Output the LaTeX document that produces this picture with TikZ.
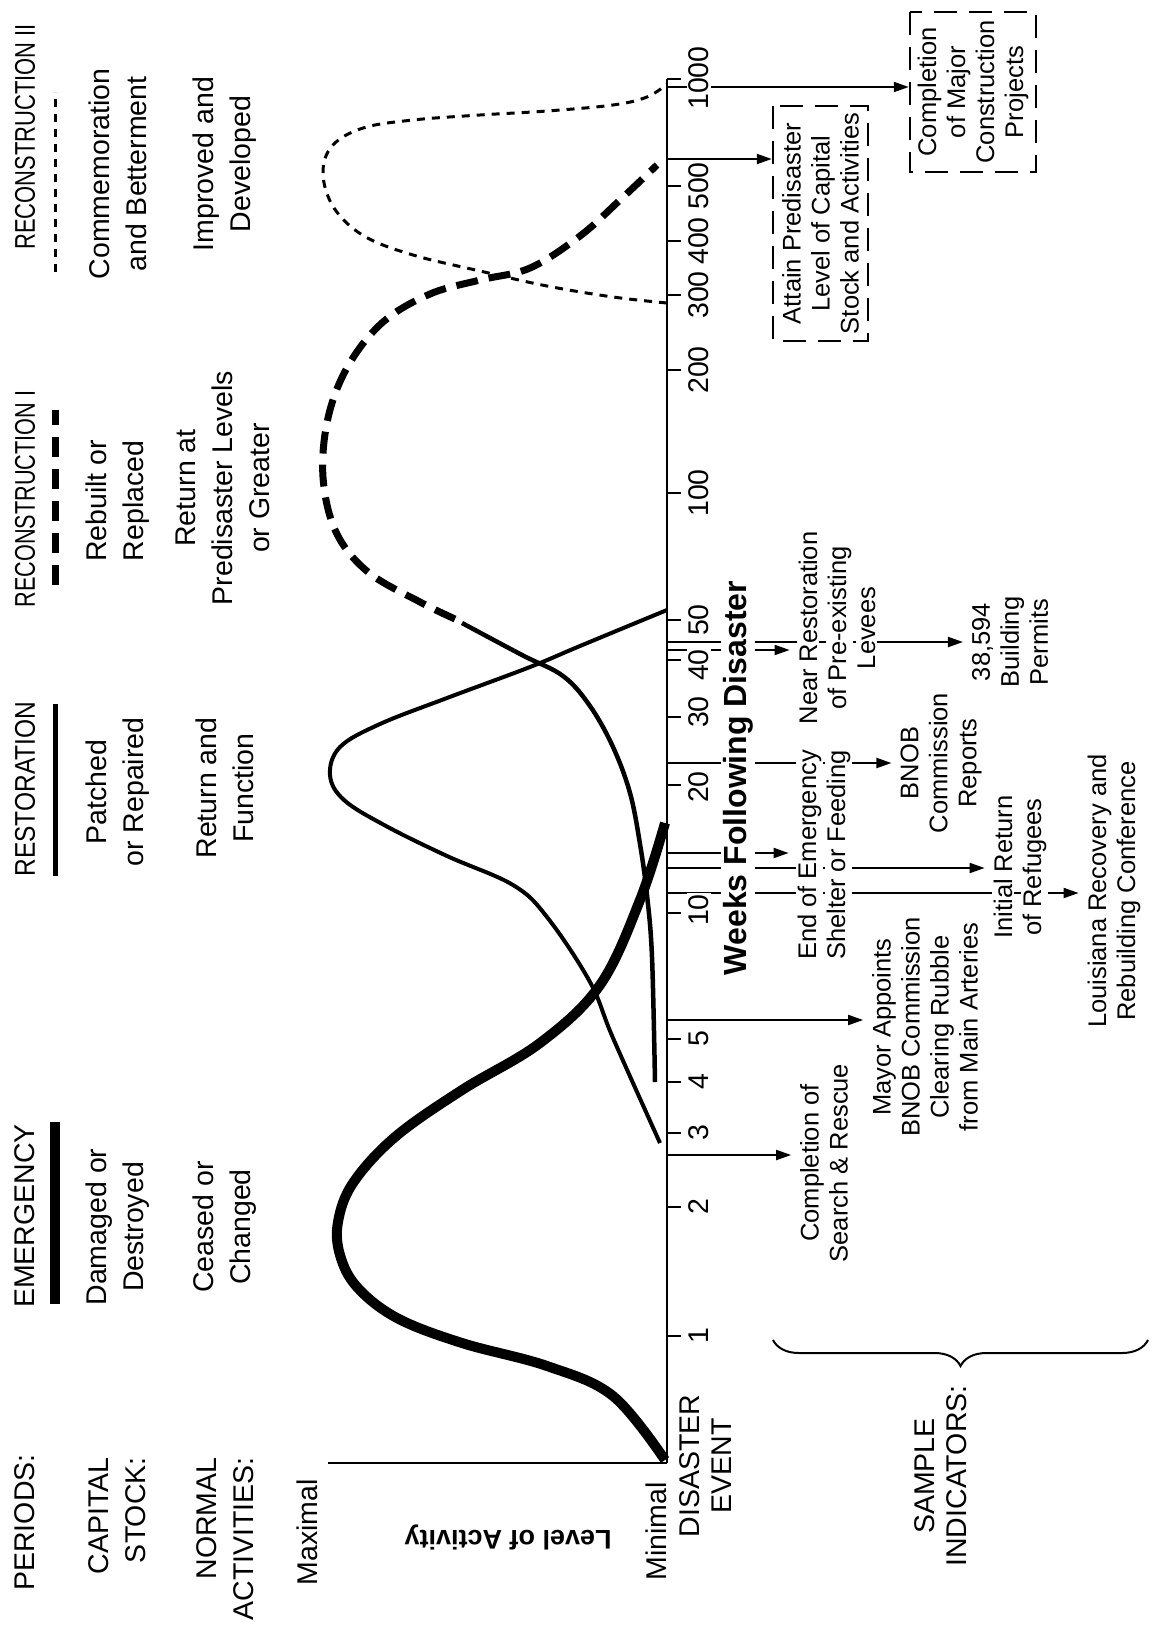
\documentclass[tikz,border=0pt]{standalone}
\usepackage{fontspec}
\setmainfont{Liberation Sans}
\usetikzlibrary{arrows.meta,decorations.pathreplacing}
\pgfdeclarelayer{paper}
\pgfdeclarelayer{back}
\pgfsetlayers{paper,back,main}
\newcommand{\kb}[1]{{\setlength{\fboxsep}{0.8pt}\colorbox{white}{#1}}}
\begin{document}
\begin{tikzpicture}[x=0.5pt,y=-0.5pt,
 every node/.style={inner sep=1pt},
 lbig/.style={rotate=90, font=\fontsize{14.25pt}{18.5pt}\selectfont, align=center},
 lbigr/.style={lbig, align=right},
 lmid/.style={rotate=90, font=\fontsize{14.25pt}{16pt}\selectfont, align=center},
 ind/.style={rotate=90, font=\fontsize{12.75pt}{14.5pt}\selectfont, align=center, inner sep=3.5pt},
 tlab/.style={rotate=90, font=\fontsize{14.25pt}{17pt}\selectfont, inner sep=0pt},
 dbox/.style={draw, line width=1.25pt, dash pattern=on 11.5pt off 6pt, rotate=90,
   font=\fontsize{12.75pt}{14.5pt}\selectfont, align=center},
 arr/.style={line width=1pt, -{Triangle[length=7.5pt,width=5pt]}},
 thin/.style={line width=1pt},
 emerg/.style={line width=5pt},
 restor/.style={line width=2pt},
 reconA/.style={line width=2.25pt},
 reconAd/.style={line width=3.5pt, dash pattern=on 11pt off 5.5pt},
 reconB/.style={line width=1.5pt, dash pattern=on 4pt off 3.5pt},
]
\begin{pgfonlayer}{paper}
\fill[white] (0,0) rectangle (1156,1628);
\end{pgfonlayer}
\useasboundingbox (0,0) rectangle (1156,1628);

% ---------- left header texts ----------
\node[lbigr, anchor=east] (periods) at (25,1452) {PERIODS:};
\node[lbigr, anchor=east] (capital) at (117.5,1455) {CAPITAL\\STOCK:};
\node[lbigr, anchor=east] (normal) at (225,1455) {NORMAL\\ACTIVITIES:};
\node[lbigr, anchor=east] (maximal) at (307.5,1477) {Maximal};
\node[lbigr, anchor=east] (minimal) at (656,1480) {Minimal};
\node[lmid] (disaster) at (706,1466) {DISASTER\\EVENT};
\node[lmid] (sample) at (941,1476) {SAMPLE\\INDICATORS:};
\node[rotate=180, font=\fontsize{13.5pt}{16pt}\selectfont\bfseries] (ylab) at (508,1537) {Level of Activity};

% Emergency group
\node[lbig] (pemerg) at (25,1216) {EMERGENCY};
\node[lbig] (cemerg) at (118,1227) {Damaged or\\Destroyed};
\node[lbig] (aemerg) at (225,1227) {Ceased or\\Changed};
% Restoration group
\node[lbig, xscale=0.86] (prest) at (25,789) {RESTORATION};
\node[lbig] (crest) at (118,792) {Patched\\or Repaired};
\node[lbig] (arest) at (225,788) {Return and\\Function};
% Reconstruction I group
\node[lbig, xscale=0.76] (precA) at (25,499) {RECONSTRUCTION I};
\node[lbig] (crecA) at (118,501) {Rebuilt or\\Replaced};
\node[lbig] (arecA) at (223,488) {Return at\\Predisaster Levels\\or Greater};
% Reconstruction II group
\node[lbig, xscale=0.77] (precB) at (25,137) {RECONSTRUCTION II};
\node[lbig] (crecB) at (118,174) {Commemoration\\and Betterment};
\node[lbig] (arecB) at (225,164) {Improved and\\Developed};

% legend bars
\coordinate (le1) at (55,1304); \coordinate (le2) at (55,1122);
\coordinate (lr1) at (55,876);  \coordinate (lr2) at (55,704);
\coordinate (la1) at (55,585);  \coordinate (la2) at (55,410);
\coordinate (lb1) at (55,272);  \coordinate (lb2) at (55,92);
\draw[emerg] (le1) -- (le2);
\draw[line width=2.5pt] (lr1) -- (lr2);
\draw[line width=3.5pt, dash pattern=on 10pt off 6pt] (la1) -- (la2);
\draw[reconB] (lb1) -- (lb2);

% ---------- axis ----------
\coordinate (axtop) at (667,79);
\coordinate (axbot) at (667,1463);
\coordinate (maxc) at (328,1463);

\begin{pgfonlayer}{back}
% curves
\draw[emerg] plot[smooth, tension=0.6] coordinates {(665,1460) (613,1396) (547,1366) (462,1343) (397,1318) (357,1287) (340,1255) (338,1222) (353,1183) (395,1137) (462,1090) (540,1043) (600,985) (640,900) (665,823)};
\draw[restor] plot[smooth, tension=0.6] coordinates {(660,1143) (613,1038) (590,982) (547,917) (513,885) (447,856) (386,826) (344,800) (330,775) (340,747) (380,724) (447,698) (530,667) (580,646) (667,610)};
\draw[reconA] plot[smooth, tension=0.6] coordinates {(655,1082) (652,957) (647,895) (640,844) (630,793) (613,747) (590,706) (563,676) (522,655) (462,623)};
\draw[reconAd] plot[smooth, tension=0.6] coordinates {(455,619) (420,602) (368,572) (336,532) (323,477) (328,418) (348,366) (383,322) (430,294) (480,280) (530,268) (580,236) (620,200) (657,165)};
\draw[reconB] plot[smooth, tension=0.6] coordinates {(667,303) (613,297) (547,286) (480,271) (413,255) (364,236) (334,208) (323,174) (332,146) (363,128) (413,120) (480,115) (547,111) (613,105) (647,97) (667,84)};

\draw[thin] (axtop) -- (axbot);
\draw[thin] (maxc) -- (axbot);
\foreach \y in {1336,1207,1133,1082,1039,913,785,717,660,620,493,370,295,241,186,79}
  \draw[thin] (667,\y) -- (681,\y);
\end{pgfonlayer}

% tick labels
\foreach \v/\y in {1/1336,2/1207,3/1133,4/1082,5/1039,10/910,20/787,30/712,40/665,50/620,100/493,200/370,300/295,400/241,500/186,1000/78}
  \node[tlab] (lab\v) at (699,\y) {\kb{\v}};

\node[rotate=90, font=\fontsize{16pt}{18pt}\selectfont\bfseries, inner sep=0pt] (title) at (738,778) {\kb{Weeks Following Disaster}};

% ---------- indicators ----------
\node[ind] (n1) at (824,1163) {\kb{Completion of}\\\kb{Search \& Rescue}};
\node[ind] (n2) at (925,1027) {\kb{Mayor Appoints}\\\kb{BNOB Commission}\\\kb{Clearing Rubble}\\\kb{from Main Arteries}};
\node[ind] (n3) at (1114,891) {\kb{Louisiana Recovery and}\\\kb{Rebuilding Conference}};
\node[ind] (n4) at (1020,867) {\kb{Initial Return}\\\kb{of Refugees}};
\node[ind] (n5) at (824,855) {\kb{End of Emergency}\\\kb{Shelter or Feeding}};
\node[ind] (n6) at (941,763) {\kb{BNOB}\\\kb{Commission}\\\kb{Reports}};
\node[ind] (n7) at (837,628) {\kb{Near Restoration}\\\kb{of Pre-existing}\\\kb{Levees}};
\node[ind] (n8) at (1010,642) {\kb{38,594}\\\kb{Building}\\\kb{Permits}};
\node[dbox, minimum width=117.5pt, minimum height=47.5pt] (attain) at (820.5,223.5) {Attain Predisaster\\Level of Capital\\Stock and Activities};
\node[dbox, minimum width=80pt, minimum height=63pt] (major) at (973,92) {Completion\\of Major\\Construction\\Projects};

\coordinate (e1) at (667,1155);
\coordinate (e2) at (667,1020);
\coordinate (e3) at (667,893);
\coordinate (e4) at (667,868);
\coordinate (e5) at (667,853);
\coordinate (e6) at (667,763);
\coordinate (e7) at (667,650);
\coordinate (e8) at (667,642);
\coordinate (e9) at (667,159);
\coordinate (e10) at (667,87);

\begin{pgfonlayer}{back}
\draw[arr] (e1) -- (e1 -| n1.north);
\draw[arr] (e2) -- (e2 -| n2.north);
\draw[arr] (e3) -- (e3 -| n3.north);
\draw[arr] (e4) -- (e4 -| n4.north);
\draw[arr] (e5) -- (e5 -| n5.north);
\draw[arr] (e6) -- (e6 -| n6.north);
\draw[arr] (e7) -- (e7 -| n7.north);
\draw[arr] (e8) -- (e8 -| n8.north);
\draw[arr] (e9) -- (e9 -| attain.north);
\draw[arr] (e10) -- (e10 -| major.north);
\end{pgfonlayer}

% brace
\coordinate (bR) at (1148,1340);
\coordinate (bL) at (773,1340);
\draw[line width=1pt, decorate, decoration={brace, amplitude=13pt}] (bR) -- (bL);
\end{tikzpicture}
\end{document}
